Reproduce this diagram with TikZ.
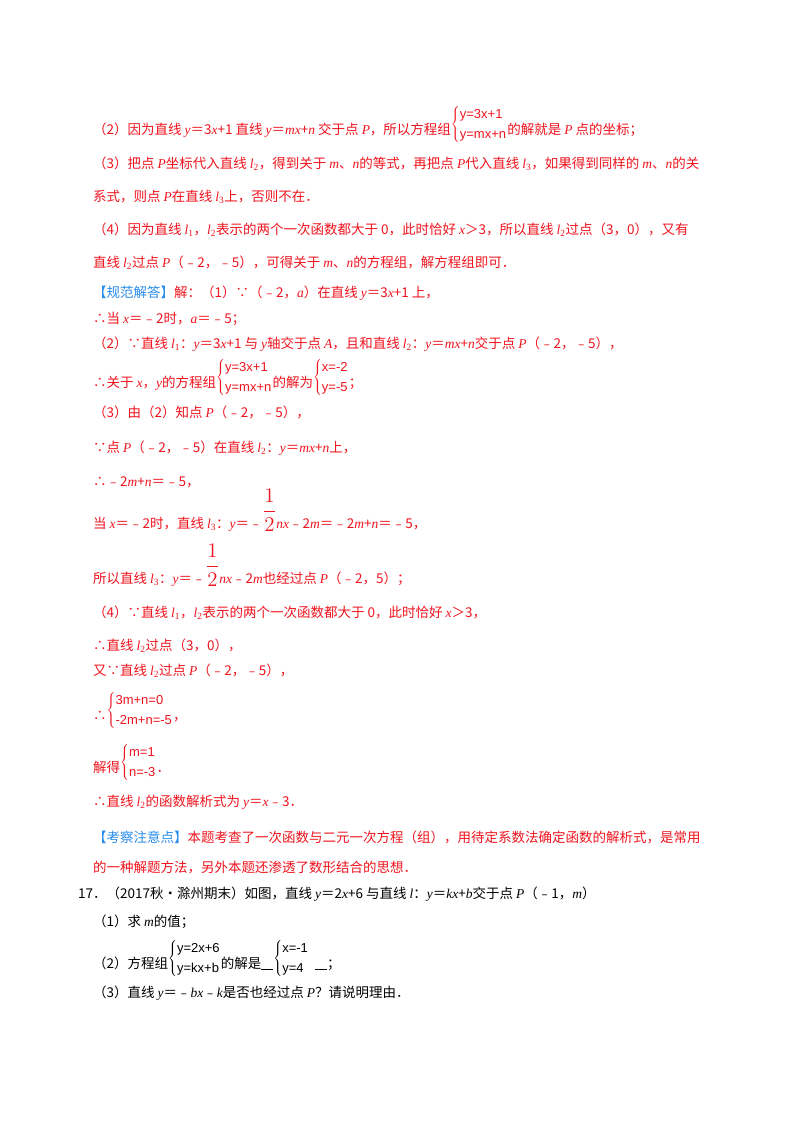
\documentclass[tikz,border=0pt]{standalone}
\usepackage{fontspec}
\usepackage{graphicx}
\setmainfont{Noto Sans CJK SC}
\newfontfamily\ls{Liberation Serif}
\newfontfamily\lsans{Liberation Sans}
\newcommand\V[1]{{\ls\itshape #1}}
\newcommand\Lsub[1]{{\ls\itshape l}\textsubscript{\ls #1}}
\newcommand\sys[2]{\raisebox{6.5pt}{\fontsize{13}{15}\selectfont$\left\{\renewcommand\arraystretch{1.3}\begin{tabular}{@{}l@{}}\lsans\fontsize{13}{15}\selectfont #1\\\lsans\fontsize{13}{15}\selectfont #2\end{tabular}\right.$}}
\newcommand\half{\raisebox{11pt}{\scalebox{1.45}{$\displaystyle\frac{1}{2}$}}}
\newcommand\blank{\underline{\hspace{12pt}}}
\definecolor{rd}{RGB}{240,20,30}
\definecolor{bl}{RGB}{40,140,235}
\begin{document}
\begin{tikzpicture}[x=1pt,y=1pt,
  ln/.style={anchor=base west,inner sep=0pt,text=rd,font=\fontsize{13.5}{16}\selectfont},
  bk/.style={ln,text=black}]
\useasboundingbox[fill=white] (0,0) rectangle (800,-1132);
\node[ln] (a1) at (93,-134) {（2）因为直线 \V{y}＝3\V{x}+1 直线 \V{y}＝\V{mx}+\V{n} 交于点 \V{P}，所以方程组\sys{y=3x+1}{y=mx+n}的解就是 \V{P} 点的坐标；};
\node[ln] (a2) at (93,-168) {（3）把点 \V{P}坐标代入直线 \Lsub{2}，得到关于 \V{m}、\V{n}的等式，再把点 \V{P}代入直线 \Lsub{3}，如果得到同样的 \V{m}、\V{n}的关};
\node[ln] (a3) at (93,-201) {系式，则点 \V{P}在直线 \Lsub{3}上，否则不在．};
\node[ln] (a4) at (93,-234) {（4）因为直线 \Lsub{1}，\Lsub{2}表示的两个一次函数都大于 0，此时恰好 \V{x}＞3，所以直线 \Lsub{2}过点（3，0），又有};
\node[ln] (a5) at (93,-267) {直线 \Lsub{2}过点 \V{P}（﹣2，﹣5），可得关于 \V{m}、\V{n}的方程组，解方程组即可．};
\node[ln] (b1) at (93,-297) {\textcolor{bl}{【规范解答】}解：（1）∵（﹣2，\V{a}）在直线 \V{y}＝3\V{x}+1 上，};
\node[ln] (b2) at (93,-323) {∴当 \V{x}＝﹣2时，\V{a}＝﹣5；};
\node[ln] (b3) at (93,-348) {（2）∵直线 \Lsub{1}：\V{y}＝3\V{x}+1 与 \V{y}轴交于点 \V{A}，且和直线 \Lsub{2}：\V{y}＝\V{mx}+\V{n}交于点 \V{P}（﹣2，﹣5），};
\node[ln] (b4) at (93,-387) {∴关于 \V{x}，\V{y}的方程组\sys{y=3x+1}{y=mx+n}的解为\sys{x=-2}{y=-5}；};
\node[ln] (b5) at (93,-417) {（3）由（2）知点 \V{P}（﹣2，﹣5），};
\node[ln] (b6) at (93,-452) {∵点 \V{P}（﹣2，﹣5）在直线 \Lsub{2}：\V{y}＝\V{mx}+\V{n}上，};
\node[ln] (b7) at (93,-486) {∴﹣2\V{m}+\V{n}＝﹣5，};
\node[ln] (b8) at (93,-528) {当 \V{x}＝﹣2时，直线 \Lsub{3}：\V{y}＝﹣\half\V{nx}﹣2\V{m}＝﹣2\V{m}+\V{n}＝﹣5，};
\node[ln] (b9) at (93,-583) {所以直线 \Lsub{3}：\V{y}＝﹣\half\V{nx}﹣2\V{m}也经过点 \V{P}（﹣2，5）；};
\node[ln] (c1) at (93,-617) {（4）∵直线 \Lsub{1}，\Lsub{2}表示的两个一次函数都大于 0，此时恰好 \V{x}＞3，};
\node[ln] (c2) at (93,-650) {∴直线 \Lsub{2}过点（3，0），};
\node[ln] (c3) at (93,-675) {又∵直线 \Lsub{2}过点 \V{P}（﹣2，﹣5），};
\node[ln] (c4) at (93,-720) {∴\sys{3m+n=0}{-2m+n=-5}，};
\node[ln] (c5) at (93,-772) {解得\sys{m=1}{n=-3}．};
\node[ln] (c6) at (93,-806) {∴直线 \Lsub{2}的函数解析式为 \V{y}＝\V{x}﹣3．};
\node[ln] (d1) at (93,-842) {\textcolor{bl}{【考察注意点】}本题考查了一次函数与二元一次方程（组），用待定系数法确定函数的解析式，是常用};
\node[ln] (d2) at (93,-872) {的一种解题方法，另外本题还渗透了数形结合的思想．};
\node[bk] (e1) at (78,-898) {17．（2017秋•滁州期末）如图，直线 \V{y}＝2\V{x}+6 与直线 \V{l}：\V{y}＝\V{kx}+\V{b}交于点 \V{P}（﹣1，\V{m}）};
\node[bk] (e2) at (93,-926) {（1）求 \V{m}的值；};
\node[bk] (e3) at (93,-968) {（2）方程组\sys{y=2x+6}{y=kx+b}的解是\blank\sys{x=-1}{y=4}\ \ \blank；};
\node[bk] (e4) at (93,-997) {（3）直线 \V{y}＝﹣\V{bx}﹣\V{k}是否也经过点 \V{P}？请说明理由．};
\end{tikzpicture}
\end{document}
